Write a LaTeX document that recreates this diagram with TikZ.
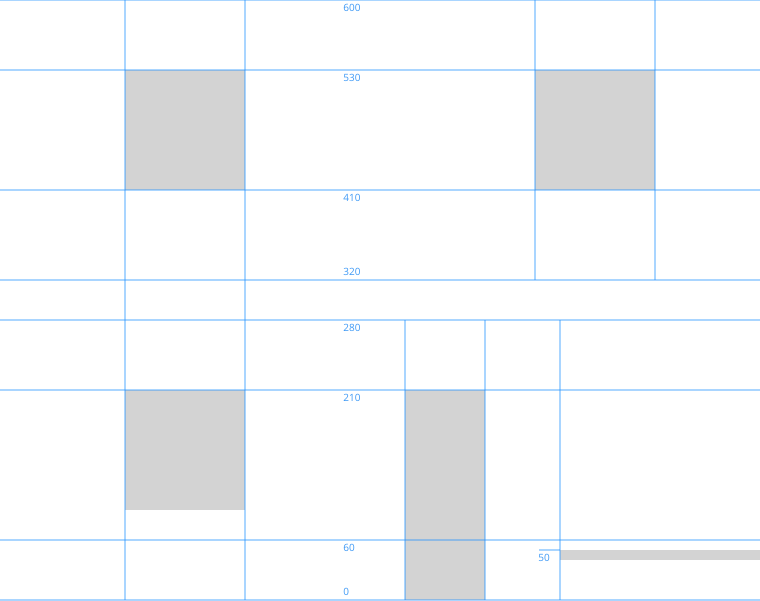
\documentclass[tikz,border=0pt]{standalone}
\usepackage{fontspec}
\setmainfont{Open Sans}
\usepackage{xcolor}
\usepackage{tikz}
\usetikzlibrary{positioning}
\definecolor{gridBlue}{RGB}{30,144,255}
\definecolor{labelBlue}{RGB}{60,152,245}
\definecolor{blockGray}{RGB}{211,211,211}
\def\W{760}
\def\H{600}
\def\labelX{343}
\newcommand{\level}[4]{%
% #1 = node, #2 = x, #3 = height, #4 = side (1=below line, 2=above line)

\ifnum#4=1
\node[levelLabel, anchor=north west] (#1) at (#2,#3) {#3};
\fi

\ifnum#4=2
\node[levelLabel, anchor=south west] (#1) at (#2,#3) {#3};
\fi
}

\begin{document}
\begin{tikzpicture}[
    x=0.02cm, y=0.02cm,
    gridLine/.style={draw=gridBlue, draw opacity=0.38, line width=0.85pt},
    block/.style={fill=blockGray},
    levelLabel/.style={text=labelBlue, inner xsep=0pt, inner ysep=2.1pt,
        font=\fontsize{5.7}{6}\selectfont}
]
\useasboundingbox (0,0) rectangle (\W,\H);
% grey blocks
\fill[block] (125,410) rectangle (245,530);
\fill[block] (535,410) rectangle (655,530);
\fill[block] (125,90) rectangle (245,210);
\fill[block] (405,0) rectangle (485,210);
\fill[block] (560,40) rectangle (\W,50);
% horizontal lines
\draw[gridLine] (0,600) -- (\W,600);
\draw[gridLine] (0,530) -- (\W,530);
\draw[gridLine] (0,410) -- (\W,410);
\draw[gridLine] (0,320) -- (\W,320);
\draw[gridLine] (0,280) -- (\W,280);
\draw[gridLine] (0,210) -- (\W,210);
\draw[gridLine] (0,60) -- (\W,60);
\draw[gridLine] (0,0) -- (\W,0);
\draw[gridLine] (539,50) -- (560,50);
% vertical lines
\draw[gridLine] (125,0) -- (125,\H);
\draw[gridLine] (245,0) -- (245,\H);
\draw[gridLine] (535,320) -- (535,\H);
\draw[gridLine] (655,320) -- (655,\H);
\draw[gridLine] (405,0) -- (405,280);
\draw[gridLine] (485,0) -- (485,280);
\draw[gridLine] (560,0) -- (560,280);
% labels
\level{l600}{\labelX}{600}{1}
\level{l530}{\labelX}{530}{1}
\level{l410}{\labelX}{410}{1}
\level{l320}{\labelX}{320}{2}
\level{l280}{\labelX}{280}{1}
\level{l210}{\labelX}{210}{1}
\level{l60}{\labelX}{60}{1}
\level{l0}{\labelX}{0}{2}
\level{l50}{538}{50}{1}
\end{tikzpicture}
\end{document}
